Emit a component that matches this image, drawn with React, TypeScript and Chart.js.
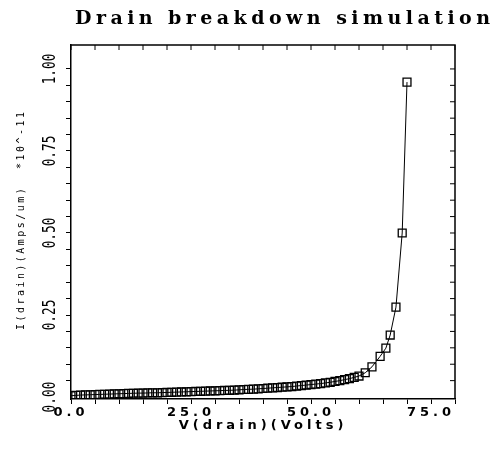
import React, { useEffect, useRef } from "react";
import { Chart, registerables } from "chart.js";

Chart.register(...registerables);

const chartTitle = "Drain breakdown simulation";
const xTitle = "V(drain)(Volts)";
const yTitle = "I(drain)(Amps/um)  *10^-11";

const voltage = [
  0, 1, 2, 3, 4, 5, 6, 7, 8, 9, 10, 11, 12, 13, 14, 15, 16, 17, 18, 19, 20,
  21, 22, 23, 24, 25, 26, 27, 28, 29, 30, 31, 32, 33, 34, 35, 36, 37, 38, 39, 40,
  41, 42, 43, 44, 45, 46, 47, 48, 49, 50, 51, 52, 53, 54, 55, 56, 57, 58, 59, 60,
  61.3, 62.7, 64.4, 65.6, 66.5, 67.7, 69.0, 70.0,
];
const current = [
  0.004, 0.005, 0.006, 0.0065, 0.007, 0.0075, 0.008, 0.0085, 0.009, 0.0095, 0.010,
  0.0105, 0.011, 0.0115, 0.012, 0.012, 0.0125, 0.013, 0.013, 0.0135, 0.014,
  0.0145, 0.015, 0.0155, 0.016, 0.0165, 0.017, 0.0175, 0.018, 0.0185, 0.019,
  0.0195, 0.020, 0.0205, 0.021, 0.022, 0.023, 0.0235, 0.024, 0.025, 0.026,
  0.027, 0.028, 0.029, 0.030, 0.031, 0.032, 0.0335, 0.035, 0.0365, 0.038,
  0.0395, 0.041, 0.043, 0.045, 0.0475, 0.050, 0.053, 0.056, 0.060, 0.064,
  0.074, 0.092, 0.124, 0.149, 0.189, 0.274, 0.500, 0.960,
];

const xTickValues = [0, 25, 50, 75];
const xTickLabels = ["0.0", "25.0", "50.0", "75.0"];
const yTickValues = [0, 0.25, 0.5, 0.75, 1.0];
const yTickLabels = ["0.00", "0.25", "0.50", "0.75", "1.00"];

const decor = {
  id: "decor",
  beforeDraw(chart: any) {
    (chart.ctx as any).letterSpacing = "4px";
  },
  afterDraw(chart: any) {
    const ctx = chart.ctx as any;
    const { left, right, top, bottom } = chart.chartArea;
    const xs = chart.scales.x;
    const ys = chart.scales.y;
    ctx.save();
    ctx.letterSpacing = "0px";
    ctx.strokeStyle = "#000";
    ctx.lineWidth = 1.5;
    ctx.beginPath();
    ctx.moveTo(left, top);
    ctx.lineTo(right, top);
    ctx.lineTo(right, bottom);
    ctx.stroke();
    ctx.lineWidth = 1;
    ctx.beginPath();
    for (const t of xs.ticks) {
      const px = xs.getPixelForValue(t.value);
      ctx.moveTo(px, top);
      ctx.lineTo(px, top + 5);
    }
    for (const t of ys.ticks) {
      const py = ys.getPixelForValue(t.value);
      ctx.moveTo(right - 5, py);
      ctx.lineTo(right, py);
    }
    ctx.stroke();

    // y tick labels, rotated
    ctx.fillStyle = "#000";
    ctx.font = '17px "DejaVu Sans Mono"';
    ctx.textAlign = "center";
    ctx.textBaseline = "middle";
    yTickValues.forEach((v, i) => {
      const py = ys.getPixelForValue(v);
      ctx.save();
      ctx.translate(51, py);
      ctx.rotate(-Math.PI / 2);
      ctx.scale(0.75, 1);
      ctx.fillText(yTickLabels[i], 0, 0);
      ctx.restore();
    });

    // y title
    ctx.save();
    ctx.font = '10px "DejaVu Sans Mono"';
    const yw = ctx.measureText(yTitle).width;
    ctx.letterSpacing = Math.max(0, (218 - yw) / (yTitle.length - 1)) + "px";
    ctx.translate(21, 221);
    ctx.rotate(-Math.PI / 2);
    ctx.textAlign = "left";
    ctx.fillText(yTitle, -109, 0);
    ctx.restore();

    // main title
    ctx.save();
    ctx.font = 'bold 19px "DejaVu Serif"';
    const tw = ctx.measureText(chartTitle).width;
    ctx.letterSpacing = Math.max(0, (415 - tw) / (chartTitle.length - 1)) + "px";
    ctx.textAlign = "left";
    ctx.textBaseline = "alphabetic";
    ctx.fillText(chartTitle, 75, 24);
    ctx.restore();

    ctx.restore();
  },
};

export default function App() {
  const ref = useRef<HTMLCanvasElement | null>(null);
  useEffect(() => {
    if (!ref.current) return;
    const chart = new Chart(ref.current, {
      type: "line",
      data: {
        datasets: [
          {
            data: voltage.map((v, i) => ({ x: v, y: current[i] })),
            borderColor: "#000",
            borderWidth: 1,
            pointStyle: "rect",
            pointRadius: 5.6,
            pointBorderWidth: 1.3,
            pointBorderColor: "#000",
            pointBackgroundColor: "rgba(0,0,0,0)",
            tension: 0,
            fill: false,
          },
        ],
      },
      options: {
        responsive: false,
        animation: false,
        layout: { padding: { left: 8, right: 40, top: 45, bottom: 0 } },
        plugins: { legend: { display: false }, tooltip: { enabled: false }, title: { display: false } },
        scales: {
          x: {
            type: "linear",
            position: "bottom",
            min: 0,
            max: 80,
            afterFit: (s: any) => {
              s.height = 50;
            },
            ticks: {
              stepSize: 5,
              autoSkip: false,
              maxRotation: 0,
              minRotation: 0,
              padding: 1,
              color: "#000",
              font: { family: "DejaVu Sans", weight: "bold", size: 13 },
              callback: (v: any) => {
                const i = xTickValues.indexOf(Number(v));
                return i >= 0 ? xTickLabels[i] : "";
              },
            },
            grid: { drawOnChartArea: false, drawTicks: true, tickLength: 5, color: "#000", lineWidth: 1 },
            border: { display: true, color: "#000", width: 1.5 },
            title: {
              display: true,
              text: xTitle,
              color: "#000",
              font: { family: "DejaVu Sans", weight: "bold", size: 13 },
              padding: { top: 0, bottom: 16 },
            },
          },
          y: {
            type: "linear",
            min: -0.006,
            max: 1.073,
            afterFit: (s: any) => {
              s.width = 63;
            },
            afterBuildTicks: (s: any) => {
              s.ticks = s.ticks.filter(
                (t: any) => Math.abs(t.value / 0.05 - Math.round(t.value / 0.05)) < 1e-6
              );
            },
            ticks: { stepSize: 0.05, display: false },
            grid: { drawOnChartArea: false, drawTicks: true, tickLength: 5, color: "#000", lineWidth: 1 },
            border: { display: true, color: "#000", width: 1.5 },
          },
        },
      },
      plugins: [decor],
    });
    return () => chart.destroy();
  }, []);
  return (
    <div style={{ position: "absolute", left: 0, top: 0, width: 495, height: 449, background: "#fff" }}>
      <canvas ref={ref} width={495} height={449} />
    </div>
  );
}
